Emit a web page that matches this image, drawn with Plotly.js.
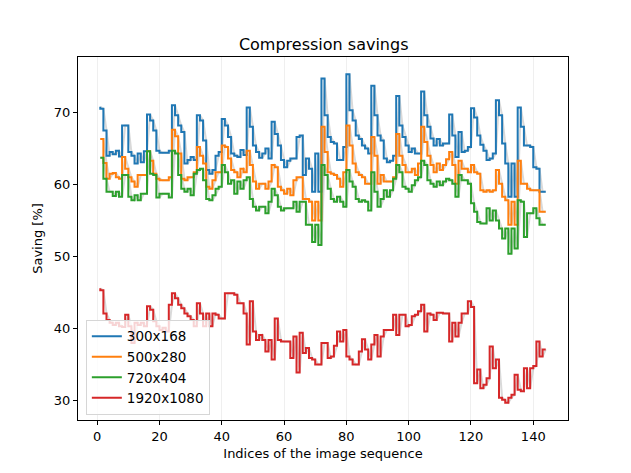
<!DOCTYPE html>
<html>
<head>
<meta charset="utf-8">
<script src="https://cdn.plot.ly/plotly-3.0.1.min.js"></script>
<style>
  html, body { margin: 0; padding: 0; background: #fff; }
  #chart { width: 631px; height: 473px; }
</style>
</head>
<body>
<div id="chart"></div>
<script>
// saving per image, one value per index of the sequence
var s300x168 = [
  70.8, 70.5, 67.5, 64.0, 64.5, 64.2, 64.7, 63.9, 68.2, 68.2,
  64.5, 64.0, 62.9, 64.3, 63.1, 64.6, 69.7, 68.9, 67.5, 64.7,
  64.4, 64.4, 64.4, 64.7, 71.0, 69.6, 68.2, 67.3, 62.9, 63.4,
  63.8, 63.4, 69.6, 68.9, 66.1, 62.0, 61.5, 62.0, 64.0, 64.5,
  69.1, 68.2, 66.6, 64.3, 64.0, 63.8, 64.8, 64.1, 70.7, 68.0,
  65.4, 64.5, 63.7, 64.3, 65.0, 63.6, 68.7, 67.0, 65.4, 63.4,
  62.4, 63.3, 63.6, 63.6, 66.6, 66.8, 61.3, 63.6, 62.2, 59.0,
  64.3, 59.0, 74.7, 69.6, 66.6, 65.9, 65.7, 63.4, 63.4, 65.2,
  75.3, 70.3, 68.9, 66.8, 66.3, 65.4, 65.0, 64.3, 73.7, 69.6,
  66.8, 66.1, 63.6, 63.1, 63.3, 64.0, 72.3, 68.2, 66.6, 65.4,
  64.5, 65.0, 64.3, 64.3, 72.9, 69.6, 68.0, 66.4, 65.4, 66.3,
  65.4, 65.7, 65.7, 69.7, 66.8, 63.8, 67.3, 64.5, 64.7, 65.2,
  70.6, 69.3, 66.8, 65.5, 64.7, 63.4, 63.6, 64.3, 71.7, 69.6,
  65.7, 62.9, 58.3, 62.9, 58.3, 70.7, 68.0, 65.4, 65.4, 65.2,
  62.4, 62.2, 59.0, 59.0
];
var s500x280 = [
  66.3, 66.3, 63.0, 60.8, 61.5, 61.6, 61.0, 60.8, 63.8, 62.2,
  61.0, 60.4, 59.7, 61.3, 61.3, 61.3, 64.6, 63.3, 61.5, 60.8,
  60.6, 60.6, 60.6, 61.0, 67.6, 66.7, 64.3, 60.8, 60.6, 61.0,
  61.0, 61.7, 65.2, 64.0, 62.9, 59.7, 59.4, 60.6, 61.7, 61.7,
  65.4, 65.2, 63.6, 62.0, 61.7, 61.0, 62.2, 61.7, 64.7, 62.7,
  60.4, 59.4, 60.1, 60.1, 59.4, 60.4, 62.7, 62.4, 59.7, 59.2,
  58.7, 59.4, 58.5, 60.6, 61.0, 61.0, 58.0, 58.0, 57.6, 55.0,
  57.6, 55.0, 68.0, 64.5, 61.7, 61.5, 61.3, 60.8, 59.7, 61.7,
  68.2, 65.4, 62.9, 61.7, 61.3, 61.0, 60.1, 60.1, 66.6, 64.0,
  60.1, 61.3, 60.4, 60.4, 60.4, 61.0, 67.0, 64.0, 62.7, 61.7,
  61.7, 62.2, 61.3, 62.9, 68.0, 65.9, 64.0, 62.7, 61.7, 62.9,
  62.0, 62.7, 63.5, 64.5, 62.7, 60.1, 63.3, 62.2, 62.2, 61.7,
  62.7, 61.7, 61.5, 59.2, 59.0, 59.2, 59.0, 59.2, 62.0, 60.1,
  58.3, 57.8, 54.4, 57.6, 54.4, 63.3, 60.1, 60.1, 59.4, 59.2,
  59.2, 59.2, 56.2, 56.2
];
var s720x404 = [
  63.7, 63.7, 60.8, 59.0, 59.0, 58.4, 59.0, 58.3, 61.3, 61.3,
  58.3, 57.8, 58.5, 57.8, 58.7, 58.7, 64.6, 61.5, 61.3, 58.2,
  58.7, 58.7, 58.7, 58.2, 64.7, 64.3, 61.3, 59.4, 59.0, 59.4,
  58.5, 61.5, 62.0, 62.2, 60.6, 58.0, 57.8, 58.5, 59.4, 59.7,
  62.7, 61.7, 60.1, 60.6, 58.7, 60.4, 59.4, 60.6, 61.0, 58.0,
  56.9, 56.4, 56.9, 56.9, 56.0, 57.6, 59.4, 58.5, 56.9, 56.4,
  56.7, 56.7, 56.7, 57.6, 56.2, 57.6, 57.6, 54.4, 54.4, 52.0,
  54.4, 51.6, 62.7, 61.3, 59.4, 58.0, 57.6, 58.3, 57.6, 56.9,
  62.0, 60.4, 59.7, 58.0, 57.6, 57.8, 57.6, 56.4, 61.7, 59.0,
  56.9, 58.0, 59.2, 58.3, 59.2, 60.8, 62.7, 61.7, 59.7, 59.4,
  59.0, 59.9, 60.6, 61.0, 63.3, 62.7, 60.6, 60.1, 59.7, 60.4,
  59.9, 60.4, 60.8, 60.6, 60.1, 58.3, 61.3, 60.6, 60.6, 60.1,
  57.4, 56.2, 54.8, 54.6, 54.6, 56.7, 55.0, 56.4, 55.0, 53.9,
  52.5, 53.9, 50.4, 53.9, 51.1, 57.8, 57.6, 52.7, 56.0, 56.0,
  56.7, 55.3, 54.4, 54.4
];
var s1920x1080 = [
  45.6, 45.3, 42.1, 41.2, 40.8, 40.5, 40.8, 40.3, 40.2, 41.9,
  40.3, 38.0, 40.8, 40.5, 40.8, 40.3, 43.1, 42.6, 41.0, 40.3,
  39.8, 40.1, 39.6, 43.3, 44.9, 44.2, 43.3, 42.8, 42.1, 41.7,
  41.2, 40.3, 43.5, 42.1, 40.3, 42.1, 40.3, 42.1, 41.9, 41.4,
  41.4, 44.9, 44.9, 44.9, 44.7, 43.5, 43.5, 42.1, 37.8, 43.8,
  39.6, 38.4, 39.1, 38.4, 36.8, 38.4, 35.7, 41.4, 38.4, 38.2,
  38.2, 38.2, 35.9, 38.9, 33.9, 39.4, 36.6, 37.3, 35.9, 35.7,
  35.0, 35.0, 38.0, 38.0, 35.9, 36.1, 37.6, 39.6, 38.2, 39.8,
  36.1, 35.7, 35.0, 35.0, 36.8, 38.5, 37.1, 35.7, 37.8, 39.1,
  36.1, 38.9, 39.8, 39.8, 39.8, 41.9, 39.1, 41.9, 41.9, 40.3,
  40.5, 41.7, 41.9, 42.4, 43.3, 39.6, 42.1, 41.9, 41.2, 42.2,
  42.2, 42.1, 42.1, 38.2, 40.8, 38.9, 40.8, 42.1, 42.1, 43.8,
  43.0, 32.4, 34.3, 31.7, 32.2, 33.1, 37.5, 34.5, 35.7, 30.4,
  30.1, 29.7, 30.4, 30.8, 33.6, 31.5, 31.3, 34.5, 31.7, 34.5,
  34.8, 38.2, 36.1, 37.1
];
var names = ['300x168', '500x280', '720x404', '1920x1080'];
var colors = ['#1f77b4', '#ff7f0e', '#2ca02c', '#d62728'];
var series = [s300x168, s500x280, s720x404, s1920x1080];
var idx = s300x168.map((v, i) => i + 1);

var data = [];
// faint straight line under each step line
series.forEach(function (s) {
  data.push({
    x: idx, y: s, type: 'scatter', mode: 'lines',
    line: { color: 'rgba(128,128,128,0.3)', width: 2 },
    showlegend: false, hoverinfo: 'skip'
  });
});
series.forEach(function (s, k) {
  data.push({
    x: idx, y: s, name: names[k], type: 'scatter', mode: 'lines',
    line: { color: colors[k], width: 2, shape: 'vh' }
  });
});

var font = { family: 'DejaVu Sans, sans-serif', size: 13, color: '#000' };
var layout = {
  width: 631,
  height: 473,
  margin: { l: 78, r: 63, t: 57, b: 53 },
  paper_bgcolor: '#fff',
  plot_bgcolor: '#fff',
  font: font,
  title: {
    text: 'Compression savings',
    font: { family: 'DejaVu Sans, sans-serif', size: 16, color: '#000' },
    x: 0.513, xanchor: 'center', y: 0.907, yanchor: 'middle'
  },
  xaxis: {
    range: [-6.15, 151.15],
    tickvals: [0, 20, 40, 60, 80, 100, 120, 140],
    ticks: 'outside', ticklen: 4, tickcolor: '#000',
    showline: true, mirror: true, linecolor: '#000', linewidth: 1,
    showgrid: true, gridcolor: '#efefef', gridwidth: 1,
    zeroline: false,
    title: { text: 'Indices of the image sequence', font: font, standoff: 6 }
  },
  yaxis: {
    range: [27.3, 77.7],
    tickvals: [30, 40, 50, 60, 70],
    ticks: 'outside', ticklen: 4, tickcolor: '#000',
    showline: true, mirror: true, linecolor: '#000', linewidth: 1,
    showgrid: false, zeroline: false,
    title: { text: 'Saving [%]', font: font, standoff: 8 }
  },
  legend: {
    x: 0.016, y: 0.014, xanchor: 'left', yanchor: 'bottom',
    bgcolor: 'rgba(255,255,255,0.8)', bordercolor: '#d6d6d6', borderwidth: 1,
    font: { family: 'DejaVu Sans, sans-serif', size: 13.5, color: '#000' },
    tracegroupgap: 0
  },
  showlegend: true
};

Plotly.newPlot('chart', data, layout, { displayModeBar: false, staticPlot: true });
</script>
</body>
</html>
